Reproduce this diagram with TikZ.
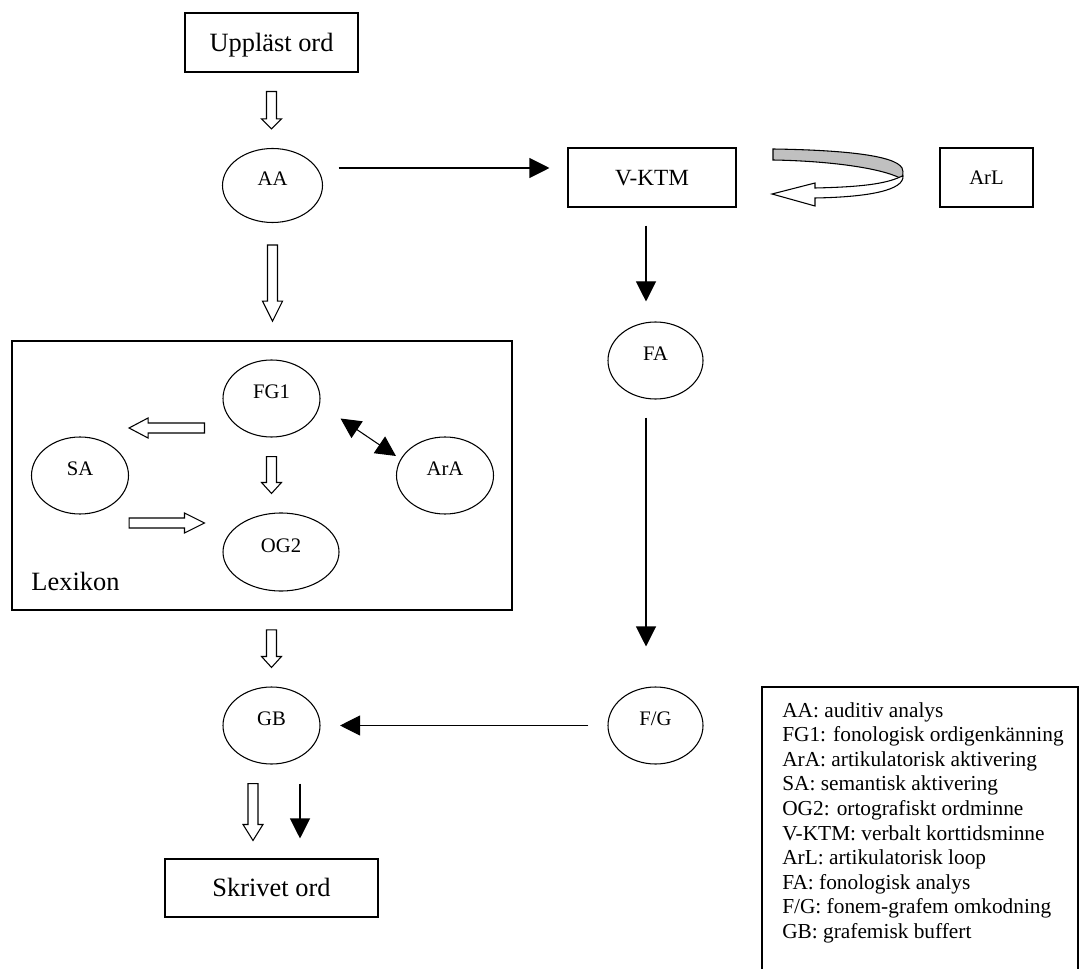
\documentclass[tikz,border=0pt]{standalone}
\usepackage{fontspec}
\setmainfont{Liberation Serif}
\usetikzlibrary{shapes.geometric,arrows.meta,calc}
\definecolor{loopgray}{RGB}{192,192,192}

% hollow block arrow pointing down: #1 start (top), #2 tip, #3 head length
\newcommand\hollowdown[3]{%
  \draw[hollow] let \p1=#1, \p2=#2 in
    (\x1-3.75pt,\y1) -- (\x1-3.75pt,\y2+#3) -- (\x1-7.5pt,\y2+#3) -- (\x1,\y2)
    -- (\x1+7.5pt,\y2+#3) -- (\x1+3.75pt,\y2+#3) -- (\x1+3.75pt,\y1) -- cycle;}
% hollow block arrow sideways: #1 start, #2 tip, #3 signed head length (+ right, - left)
\newcommand\hollowside[3]{%
  \draw[hollow] let \p1=#1, \p2=#2, \n1={\x2-(#3)} in
    (\x1,\y1+3.75pt) -- (\n1,\y1+3.75pt) -- (\n1,\y1+7.5pt) -- (\x2,\y1)
    -- (\n1,\y1-7.5pt) -- (\n1,\y1-3.75pt) -- (\x1,\y1-3.75pt) -- cycle;}

\begin{document}
\begin{tikzpicture}[x=0.75pt,y=-0.75pt,
  box/.style={draw, line width=0.8pt, inner sep=0pt, text depth=0pt},
  big/.style={font=\fontsize{19.8}{23.8}\selectfont, text height=13.1pt},
  oval/.style={ellipse, draw, line width=0.8pt, inner sep=0pt,
    minimum width=72.75pt, minimum height=57.75pt,
    font=\fontsize{15.5}{18}\selectfont, text height=4pt, text depth=4pt},
  hollow/.style={draw, fill=white, line width=0.8pt, line join=miter},
  flow/.style={line width=0.8pt, -{Triangle[length=15pt,width=15pt]}},
  twoway/.style={line width=0.8pt, {Triangle[length=15pt,width=15pt]}-{Triangle[length=15pt,width=15pt]}}
]
\useasboundingbox (0,0) rectangle (1080,969);

% main column
\node[box, big, minimum width=129.75pt, minimum height=44.25pt] (up) at (271.5,42.5) {Uppläst ord};
\node[oval, minimum width=75pt, minimum height=55.5pt] (aa) at (272.5,185.5) {AA};

% lexicon
\node[draw, line width=1.2pt, inner sep=0pt, minimum width=375pt, minimum height=201.75pt] (lex) at (262,475.5) {};
\node[oval] (fg1) at (271.5,398.5) {FG1};
\node[oval] (sa) at (80,475.5) {SA};
\node[oval] (ara) at (445,475.5) {ArA};
\node[oval, minimum width=87pt, minimum height=58.5pt] (og2) at (281,552) {OG2};
\node[font=\fontsize{19.8}{23.8}\selectfont, anchor=base west, inner sep=0pt] (lexlabel) at ($(lex.south west)+(20,-20)$) {Lexikon};

\node[oval] (gb) at (271.5,725.5) {GB};
\node[box, big, minimum width=159.75pt, minimum height=43.5pt] (skr) at (271.5,888) {Skrivet ord};

% right column
\node[box, font=\fontsize{17.4}{20}\selectfont, text height=11.5pt, minimum width=126pt, minimum height=44.25pt] (vktm) at (652,177.5) {V-KTM};
\node[box, font=\fontsize{15.5}{18}\selectfont, text height=10.3pt, minimum width=69.75pt, minimum height=44.25pt] (arl) at (986.5,177.5) {ArL};
\node[oval, minimum width=71.25pt] (fa) at (655.5,360.5) {FA};
\node[oval, minimum width=71.25pt] (fg) at (655.5,725.5) {F/G};

% legend
\node[anchor=north west, align=left, inner sep=0pt, font=\fontsize{16}{18.45}\selectfont] (legend) at (782,702)
 {AA: auditiv analys\\
  FG1: fonologisk ordigenkänning\\
  ArA: artikulatorisk aktivering\\
  SA: semantisk aktivering\\
  OG2: ortografiskt ordminne\\
  V-KTM: verbalt korttidsminne\\
  ArL: artikulatorisk loop\\
  FA: fonologisk analys\\
  F/G: fonem-grafem omkodning\\
  GB: grafemisk buffert};
\draw[line width=0.8pt] (762,980) -- (762,687) -- (1078,687) -- (1078,980);

% hollow arrows
\hollowdown{($(up.south)+(0,19)$)}{($(up.south |- aa.north)+(0,-19)$)}{7.5pt}
\hollowdown{($(aa.south)+(0,22)$)}{($(aa.south |- lex.north)+(0,-19)$)}{15pt}
\hollowdown{($(gb.north |- lex.south)+(0,19)$)}{($(gb.north)+(0,-19)$)}{8.25pt}
\hollowdown{($(fg1.south)+(0,19)$)}{($(fg1.south |- og2.north)+(0,-19)$)}{8.25pt}
\hollowside{($(fg1.west)+(-18,29.5)$)}{($(sa.east |- fg1.west)+(0,29.5)$)}{-14.25pt}
\hollowside{($(sa.east)+(0,47.5)$)}{($(og2.west |- sa.east)+(-18,47.5)$)}{15pt}
\hollowdown{($(gb.south)+(-18.5,19)$)}{($(skr.north)+(-18.5,-18)$)}{12pt}

% solid arrows
\coordinate (v1) at ($(vktm.south)+(-6,18)$);
\coordinate (f1) at ($(fa.south)+(-9.5,18)$);
\draw[flow] ($(aa.east)+(15.5,-17.5)$) -- ($(vktm.west)+(-18,-9.5)$);
\draw[flow] (v1) -- ($(v1 |- fa.north)+(0,-20)$);
\draw[flow] (f1) -- ($(f1 |- fg.north)+(0,-40)$);
\draw[flow] ($(fg.west)+(-19,0)$) -- ($(gb.east)+(19.5,0)$);
\draw[flow] ($(gb.south)+(28.5,19)$) -- ($(skr.north)+(28.5,-20)$);
\draw[twoway] ($(fg1.east)+(20,20)$) -- ($(ara.west)+(0,-19.5)$);

% articulatory loop between V-KTM and ArL
\draw[line width=0.8pt, fill=loopgray]
  (773,149) .. controls (840,150) and (895,155) .. (902,168)
  .. controls (904,173) and (903,177) .. (900,178)
  .. controls (880,168) and (830,161) .. (773,160) -- cycle;
\draw[line width=0.8pt, fill=white, line join=miter]
  (900,177) .. controls (885,184) and (860,187) .. (815,188)
  -- (815,183) -- (772,194) -- (815,206) -- (815,198)
  .. controls (870,197) and (904,190) .. (903,176) -- cycle;
\end{tikzpicture}
\end{document}
